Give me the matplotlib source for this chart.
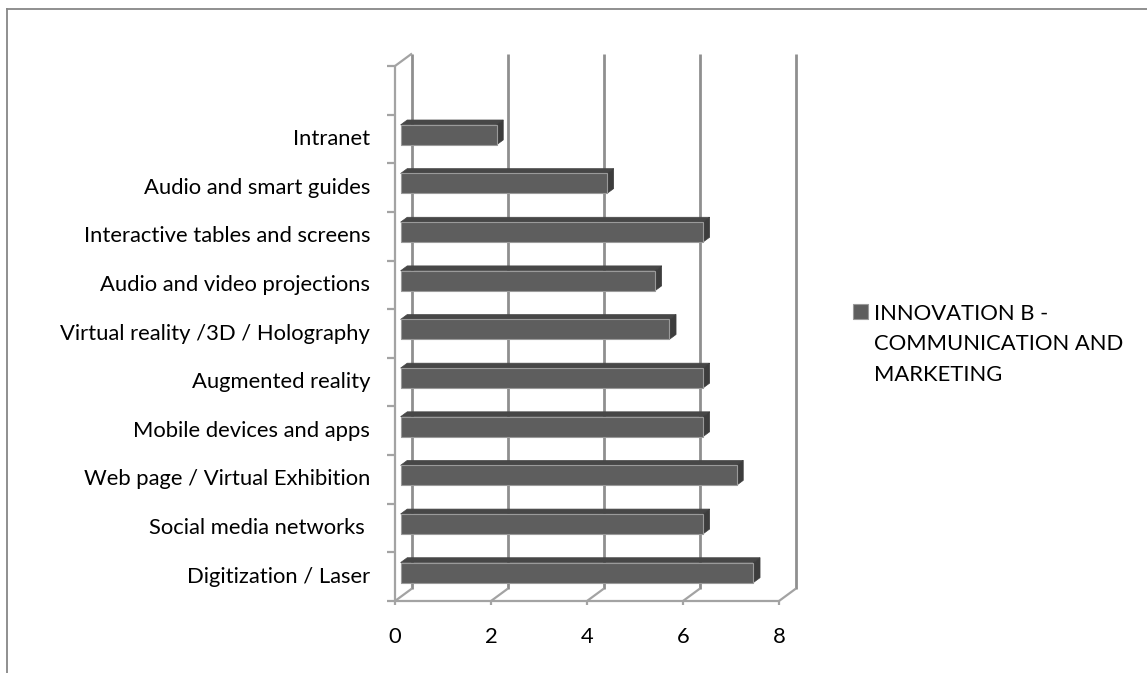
import matplotlib
matplotlib.use("Agg")
import matplotlib.pyplot as plt
from matplotlib.patches import Polygon, Rectangle
from matplotlib.lines import Line2D
from matplotlib import transforms as mtransforms

# ---- data -------------------------------------------------------------
categories = [
    "Digitization / Laser",
    "Social media networks ",
    "Web page / Virtual Exhibition",
    "Mobile devices and apps",
    "Augmented reality",
    "Virtual reality /3D / Holography",
    "Audio and video projections",
    "Interactive tables and screens",
    "Audio and smart guides",
    "Intranet",
]
values = [7.35, 6.3, 7.0, 6.3, 6.3, 5.6, 5.3, 6.3, 4.3, 2.0]
x_ticks = [0, 2, 4, 6, 8]
series_label = "INNOVATION B -\nCOMMUNICATION AND\nMARKETING"

# ---- styling ----------------------------------------------------------
W, H, DPI = 1147, 673, 100
FONT = "Lato"
FS = 15.8
GRID = "#8f8f8f"
FLOOR = "#a3a3a3"
FRONT = "#5e5e5e"
TOP = "#474747"
SIDE = "#3d3d3d"
EDGE = "#9a9a9a"

plt.rcParams["font.family"] = [FONT, "DejaVu Sans"]

fig = plt.figure(figsize=(W / DPI, H / DPI), dpi=DPI)
fig.patch.set_facecolor("white")

# front plane of the plot area in pixels
PX0, PX1 = 395, 779
PY_TOP, PY_BOT = 66, 601
ax = fig.add_axes([PX0 / W, (H - PY_BOT) / H, (PX1 - PX0) / W, (PY_BOT - PY_TOP) / H])
ax.set_xlim(0, 8)
ax.set_ylim(-0.5, len(categories) + 0.5)
ax.axis("off")

# depth vector (pixels -> data units)
DEPTH_PX = (17, 12.5)
ux = 8 / (PX1 - PX0)
uy = (len(categories) + 1) / (PY_BOT - PY_TOP)
DX, DY = DEPTH_PX[0] * ux, DEPTH_PX[1] * uy

ymin, ymax = -0.5, len(categories) + 0.5


def line(xs, ys, color, lw, z=1):
    ax.add_line(Line2D(xs, ys, color=color, lw=lw, clip_on=False, zorder=z,
                       solid_capstyle="butt"))


# back wall gridlines
for t in x_ticks:
    line([t + DX, t + DX], [ymin + DY, ymax + DY], GRID, 2.0)

# floor: front edge and depth diagonals
line([0, 8], [ymin, ymin], FLOOR, 1.6)
for t in x_ticks:
    line([t, t + DX], [ymin, ymin + DY], FLOOR, 1.6)

# left wall: front edge and top diagonal
line([0, 0], [ymin, ymax], FLOOR, 1.6)
line([0, DX], [ymax, ymax + DY], FLOOR, 1.6)

# category tick marks on the wall edge
tick_len = 8 * ux
for k in range(len(categories) + 2):
    yk = ymin + k
    line([-tick_len, 0], [yk, yk], FLOOR, 1.6)

# value tick marks under the floor edge
for t in x_ticks:
    line([t, t], [ymin, ymin - 4 * uy], FLOOR, 1.6)

# ---- 3-D bars ---------------------------------------------------------
d1, d2 = 0.33, 0.72
ox1, oy1 = d1 * DX, d1 * DY
ox2, oy2 = d2 * DX, d2 * DY
hh = 0.205
pos = list(range(len(categories)))

ax.barh([p + oy1 for p in pos], values, height=2 * hh, left=ox1,
        color=FRONT, edgecolor=EDGE, linewidth=0.8, zorder=5, clip_on=False)
for p, v in zip(pos, values):
    top = [(ox1, p + hh + oy1), (ox1 + v, p + hh + oy1),
           (ox2 + v, p + hh + oy2), (ox2, p + hh + oy2)]
    side = [(ox1 + v, p - hh + oy1), (ox2 + v, p - hh + oy2),
            (ox2 + v, p + hh + oy2), (ox1 + v, p + hh + oy1)]
    ax.add_patch(Polygon(top, closed=True, facecolor=TOP, edgecolor=TOP,
                         linewidth=0.5, zorder=4, clip_on=False))
    ax.add_patch(Polygon(side, closed=True, facecolor=SIDE, edgecolor=SIDE,
                         linewidth=0.5, zorder=4, clip_on=False))

# ---- labels -----------------------------------------------------------
lab_tr = mtransforms.offset_copy(ax.transData, fig=fig, x=-25, y=0, units="dots")
for p, name in zip(pos, categories):
    ax.text(0, p, name, transform=lab_tr, ha="right", va="center",
            fontsize=FS, color="black")

tick_tr = mtransforms.offset_copy(ax.transData, fig=fig, x=0, y=-36, units="dots")
for t in x_ticks:
    ax.text(t, ymin, str(t), transform=tick_tr, ha="center", va="center",
            fontsize=FS, color="black")

# ---- legend -----------------------------------------------------------
fig.add_artist(Rectangle((853 / W, (H - 319) / H), 15 / W, 15 / H,
                         transform=fig.transFigure, facecolor=FRONT,
                         edgecolor=EDGE, linewidth=0.8))
fig.text(874 / W, (H - 304) / H, series_label, ha="left", va="top",
         fontsize=FS, color="black", linespacing=1.65)

# ---- chart area border ------------------------------------------------
fig.add_artist(Line2D([7 / W, 7 / W], [0, (H - 9) / H], transform=fig.transFigure,
                      color="#878787", lw=1.3))
fig.add_artist(Line2D([7 / W, 1], [(H - 9) / H, (H - 9) / H],
                      transform=fig.transFigure, color="#878787", lw=1.3))

fig.savefig("out.png", dpi=DPI)
